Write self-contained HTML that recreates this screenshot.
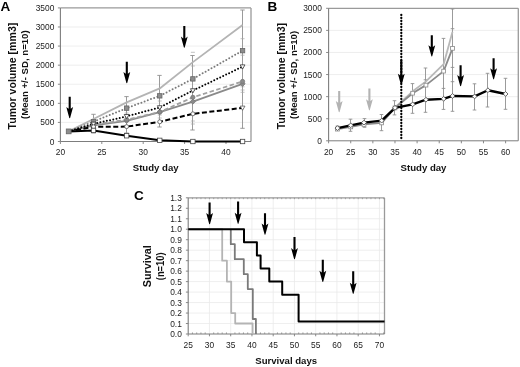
<!DOCTYPE html><html><head><meta charset="utf-8"><style>html,body{margin:0;padding:0;background:#fff;}svg{display:block;will-change:transform;}text{font-family:"Liberation Sans", sans-serif;}</style></head><body>
<svg width="520" height="367" viewBox="0 0 520 367">
<rect width="520" height="367" fill="#fff"/>
<line x1="60.4" y1="122.41" x2="251" y2="122.41" stroke="#eaeaea" stroke-width="0.8"/>
<line x1="60.4" y1="103.33" x2="251" y2="103.33" stroke="#eaeaea" stroke-width="0.8"/>
<line x1="60.4" y1="84.24" x2="251" y2="84.24" stroke="#eaeaea" stroke-width="0.8"/>
<line x1="60.4" y1="65.16" x2="251" y2="65.16" stroke="#eaeaea" stroke-width="0.8"/>
<line x1="60.4" y1="46.07" x2="251" y2="46.07" stroke="#eaeaea" stroke-width="0.8"/>
<line x1="60.4" y1="26.99" x2="251" y2="26.99" stroke="#eaeaea" stroke-width="0.8"/>
<line x1="60.4" y1="7.9" x2="251" y2="7.9" stroke="#9a9a9a" stroke-width="1.3"/>
<line x1="251" y1="7.9" x2="251" y2="141.5" stroke="#9a9a9a" stroke-width="1.3"/>
<line x1="60.4" y1="7.9" x2="60.4" y2="141.5" stroke="#7d7d7d" stroke-width="1.1"/>
<line x1="60.4" y1="141.5" x2="251" y2="141.5" stroke="#7d7d7d" stroke-width="1.1"/>
<line x1="57.9" y1="141.5" x2="60.4" y2="141.5" stroke="#7d7d7d" stroke-width="0.9"/>
<text x="54.3" y="144.5" font-size="8.4" text-anchor="end" font-weight="normal" fill="#222">0</text>
<line x1="57.9" y1="122.41" x2="60.4" y2="122.41" stroke="#7d7d7d" stroke-width="0.9"/>
<text x="54.3" y="125.41" font-size="8.4" text-anchor="end" font-weight="normal" fill="#222">500</text>
<line x1="57.9" y1="103.33" x2="60.4" y2="103.33" stroke="#7d7d7d" stroke-width="0.9"/>
<text x="54.3" y="106.33" font-size="8.4" text-anchor="end" font-weight="normal" fill="#222">1000</text>
<line x1="57.9" y1="84.24" x2="60.4" y2="84.24" stroke="#7d7d7d" stroke-width="0.9"/>
<text x="54.3" y="87.24" font-size="8.4" text-anchor="end" font-weight="normal" fill="#222">1500</text>
<line x1="57.9" y1="65.16" x2="60.4" y2="65.16" stroke="#7d7d7d" stroke-width="0.9"/>
<text x="54.3" y="68.16" font-size="8.4" text-anchor="end" font-weight="normal" fill="#222">2000</text>
<line x1="57.9" y1="46.07" x2="60.4" y2="46.07" stroke="#7d7d7d" stroke-width="0.9"/>
<text x="54.3" y="49.07" font-size="8.4" text-anchor="end" font-weight="normal" fill="#222">2500</text>
<line x1="57.9" y1="26.99" x2="60.4" y2="26.99" stroke="#7d7d7d" stroke-width="0.9"/>
<text x="54.3" y="29.99" font-size="8.4" text-anchor="end" font-weight="normal" fill="#222">3000</text>
<line x1="57.9" y1="7.9" x2="60.4" y2="7.9" stroke="#7d7d7d" stroke-width="0.9"/>
<text x="54.3" y="10.9" font-size="8.4" text-anchor="end" font-weight="normal" fill="#222">3500</text>
<line x1="60.4" y1="141.5" x2="60.4" y2="144" stroke="#7d7d7d" stroke-width="0.9"/>
<text x="60.4" y="155.2" font-size="8.4" text-anchor="middle" font-weight="normal" fill="#222">20</text>
<line x1="101.8" y1="141.5" x2="101.8" y2="144" stroke="#7d7d7d" stroke-width="0.9"/>
<text x="101.8" y="155.2" font-size="8.4" text-anchor="middle" font-weight="normal" fill="#222">25</text>
<line x1="143.2" y1="141.5" x2="143.2" y2="144" stroke="#7d7d7d" stroke-width="0.9"/>
<text x="143.2" y="155.2" font-size="8.4" text-anchor="middle" font-weight="normal" fill="#222">30</text>
<line x1="184.6" y1="141.5" x2="184.6" y2="144" stroke="#7d7d7d" stroke-width="0.9"/>
<text x="184.6" y="155.2" font-size="8.4" text-anchor="middle" font-weight="normal" fill="#222">35</text>
<line x1="226" y1="141.5" x2="226" y2="144" stroke="#7d7d7d" stroke-width="0.9"/>
<text x="226" y="155.2" font-size="8.4" text-anchor="middle" font-weight="normal" fill="#222">40</text>
<text x="155.7" y="170.8" font-size="9.6" text-anchor="middle" font-weight="bold" fill="#111">Study day</text>
<text x="16.3" y="129.5" font-size="10.4" font-weight="bold" fill="#111" textLength="106.8" lengthAdjust="spacingAndGlyphs" transform="rotate(-90 16.3 129.5)">Tumor volume [mm3]</text>
<text x="28.5" y="118.9" font-size="9.3" font-weight="bold" fill="#111" textLength="88.5" lengthAdjust="spacingAndGlyphs" transform="rotate(-90 28.5 118.9)">(Mean +/- SD, n=10)</text>
<text x="0.5" y="10.8" font-size="13.5" text-anchor="start" font-weight="bold" fill="#000">A</text>
<line x1="93.5" y1="114.3" x2="93.5" y2="133" stroke="#909090" stroke-width="0.9"/>
<line x1="91.3" y1="114.3" x2="95.7" y2="114.3" stroke="#909090" stroke-width="0.9"/>
<line x1="91.3" y1="133" x2="95.7" y2="133" stroke="#909090" stroke-width="0.9"/>
<line x1="126.5" y1="96.6" x2="126.5" y2="133" stroke="#909090" stroke-width="0.9"/>
<line x1="124.3" y1="96.6" x2="128.7" y2="96.6" stroke="#909090" stroke-width="0.9"/>
<line x1="124.3" y1="133" x2="128.7" y2="133" stroke="#909090" stroke-width="0.9"/>
<line x1="159.5" y1="75.4" x2="159.5" y2="127" stroke="#909090" stroke-width="0.9"/>
<line x1="157.3" y1="75.4" x2="161.7" y2="75.4" stroke="#909090" stroke-width="0.9"/>
<line x1="157.3" y1="127" x2="161.7" y2="127" stroke="#909090" stroke-width="0.9"/>
<line x1="192.5" y1="55.5" x2="192.5" y2="130" stroke="#909090" stroke-width="0.9"/>
<line x1="190.3" y1="55.5" x2="194.7" y2="55.5" stroke="#909090" stroke-width="0.9"/>
<line x1="190.3" y1="130" x2="194.7" y2="130" stroke="#909090" stroke-width="0.9"/>
<line x1="242.5" y1="10" x2="242.5" y2="128.3" stroke="#909090" stroke-width="0.9"/>
<line x1="240.3" y1="10" x2="244.7" y2="10" stroke="#909090" stroke-width="0.9"/>
<line x1="240.3" y1="128.3" x2="244.7" y2="128.3" stroke="#909090" stroke-width="0.9"/>
<line x1="240.56" y1="38.7" x2="244.56" y2="38.7" stroke="#a8a8a8" stroke-width="0.7"/>
<line x1="240.56" y1="55.2" x2="244.56" y2="55.2" stroke="#a8a8a8" stroke-width="0.7"/>
<line x1="240.56" y1="86.8" x2="244.56" y2="86.8" stroke="#a8a8a8" stroke-width="0.7"/>
<line x1="240.56" y1="90" x2="244.56" y2="90" stroke="#a8a8a8" stroke-width="0.7"/>
<line x1="240.56" y1="92.3" x2="244.56" y2="92.3" stroke="#a8a8a8" stroke-width="0.7"/>
<line x1="190.88" y1="52.3" x2="194.88" y2="52.3" stroke="#a8a8a8" stroke-width="0.7"/>
<line x1="190.88" y1="66" x2="194.88" y2="66" stroke="#a8a8a8" stroke-width="0.7"/>
<line x1="190.88" y1="121" x2="194.88" y2="121" stroke="#a8a8a8" stroke-width="0.7"/>
<line x1="190.88" y1="124" x2="194.88" y2="124" stroke="#a8a8a8" stroke-width="0.7"/>
<line x1="157.76" y1="101" x2="161.76" y2="101" stroke="#a8a8a8" stroke-width="0.7"/>
<line x1="157.76" y1="115" x2="161.76" y2="115" stroke="#a8a8a8" stroke-width="0.7"/>
<line x1="157.76" y1="118" x2="161.76" y2="118" stroke="#a8a8a8" stroke-width="0.7"/>
<line x1="124.64" y1="113" x2="128.64" y2="113" stroke="#a8a8a8" stroke-width="0.7"/>
<line x1="124.64" y1="118" x2="128.64" y2="118" stroke="#a8a8a8" stroke-width="0.7"/>
<polyline points="68.68,131.38 93.52,118.98 126.64,102.34 159.76,88.44 192.88,62.1 242.56,25.08" fill="none" stroke="#b4b4b4" stroke-width="1.8" stroke-linejoin="round"/>
<polyline points="68.68,131.38 93.52,125.47 126.64,120.89 159.76,112.03 192.88,101.61 242.56,83.86" fill="none" stroke="#8a8a8a" stroke-width="1.8" stroke-linejoin="round"/>
<polyline points="68.68,131.38 93.52,124.7 126.64,119.74 159.76,112.03 192.88,97.34 242.56,81.46" fill="none" stroke="#a0a0a0" stroke-width="1.8" stroke-linejoin="round" stroke-dasharray="4.5,2.5"/>
<polyline points="68.68,131.38 93.52,121.61 126.64,108.14 159.76,95.85 192.88,78.9 242.56,50.65" fill="none" stroke="#7a7a7a" stroke-width="2" stroke-linejoin="round" stroke-dasharray="0,3.4" stroke-linecap="round"/>
<polyline points="68.68,131.38 93.52,123.94 126.64,116.31 159.76,107.53 192.88,90.54 242.56,66.68" fill="none" stroke="#000" stroke-width="2" stroke-linejoin="round" stroke-dasharray="0,3.3" stroke-linecap="round"/>
<polyline points="68.68,131.38 93.52,126.8 126.64,126.61 159.76,121.8 192.88,113.83 242.56,107.91" fill="none" stroke="#000" stroke-width="2" stroke-linejoin="round" stroke-dasharray="5,2.5"/>
<polyline points="68.68,131.38 93.52,130.43 126.64,135.77 159.76,140.35 192.88,141.5 242.56,141.5" fill="none" stroke="#000" stroke-width="2" stroke-linejoin="round"/>
<polygon points="93.52,122.87 96.12,125.47 93.52,128.07 90.92,125.47" fill="#8a8a8a" stroke="#777" stroke-width="0.8"/>
<polygon points="126.64,118.29 129.24,120.89 126.64,123.49 124.04,120.89" fill="#8a8a8a" stroke="#777" stroke-width="0.8"/>
<polygon points="159.76,109.43 162.36,112.03 159.76,114.63 157.16,112.03" fill="#8a8a8a" stroke="#777" stroke-width="0.8"/>
<polygon points="192.88,99.01 195.48,101.61 192.88,104.21 190.28,101.61" fill="#8a8a8a" stroke="#777" stroke-width="0.8"/>
<polygon points="242.56,81.26 245.16,83.86 242.56,86.46 239.96,83.86" fill="#8a8a8a" stroke="#777" stroke-width="0.8"/>
<circle cx="93.52" cy="124.7" r="2.1" fill="#8a8a8a" stroke="#777" stroke-width="0.8"/>
<circle cx="126.64" cy="119.74" r="2.1" fill="#8a8a8a" stroke="#777" stroke-width="0.8"/>
<circle cx="159.76" cy="112.03" r="2.1" fill="#8a8a8a" stroke="#777" stroke-width="0.8"/>
<circle cx="192.88" cy="97.34" r="2.1" fill="#8a8a8a" stroke="#777" stroke-width="0.8"/>
<circle cx="242.56" cy="81.46" r="2.1" fill="#8a8a8a" stroke="#777" stroke-width="0.8"/>
<rect x="91.32" y="119.41" width="4.4" height="4.4" fill="#8c8c8c" stroke="#666" stroke-width="0.8"/>
<rect x="124.44" y="105.94" width="4.4" height="4.4" fill="#8c8c8c" stroke="#666" stroke-width="0.8"/>
<rect x="157.56" y="93.65" width="4.4" height="4.4" fill="#8c8c8c" stroke="#666" stroke-width="0.8"/>
<rect x="190.68" y="76.7" width="4.4" height="4.4" fill="#8c8c8c" stroke="#666" stroke-width="0.8"/>
<rect x="240.36" y="48.45" width="4.4" height="4.4" fill="#8c8c8c" stroke="#666" stroke-width="0.8"/>
<polygon points="91.12,122.14 95.92,122.14 93.52,126.34" fill="#fff" stroke="#333" stroke-width="0.8"/>
<polygon points="124.24,114.51 129.04,114.51 126.64,118.71" fill="#fff" stroke="#333" stroke-width="0.8"/>
<polygon points="157.36,105.73 162.16,105.73 159.76,109.93" fill="#fff" stroke="#333" stroke-width="0.8"/>
<polygon points="190.48,88.74 195.28,88.74 192.88,92.94" fill="#fff" stroke="#333" stroke-width="0.8"/>
<polygon points="240.16,64.88 244.96,64.88 242.56,69.08" fill="#fff" stroke="#333" stroke-width="0.8"/>
<circle cx="93.52" cy="126.8" r="2" fill="#fff" stroke="#555" stroke-width="0.8"/>
<circle cx="126.64" cy="126.61" r="2" fill="#fff" stroke="#555" stroke-width="0.8"/>
<circle cx="159.76" cy="121.8" r="2" fill="#fff" stroke="#555" stroke-width="0.8"/>
<circle cx="192.88" cy="113.83" r="2" fill="#fff" stroke="#555" stroke-width="0.8"/>
<polygon points="240.16,106.11 244.96,106.11 242.56,110.31" fill="#fff" stroke="#555" stroke-width="0.8"/>
<rect x="91.32" y="128.23" width="4.4" height="4.4" fill="#fff" stroke="#444" stroke-width="0.8"/>
<rect x="124.44" y="133.57" width="4.4" height="4.4" fill="#fff" stroke="#444" stroke-width="0.8"/>
<rect x="157.56" y="138.15" width="4.4" height="4.4" fill="#fff" stroke="#444" stroke-width="0.8"/>
<rect x="190.68" y="139.3" width="4.4" height="4.4" fill="#fff" stroke="#444" stroke-width="0.8"/>
<rect x="240.36" y="139.3" width="4.4" height="4.4" fill="#fff" stroke="#444" stroke-width="0.8"/>
<rect x="66.28" y="128.98" width="4.8" height="4.8" fill="#8c8c8c" stroke="#666" stroke-width="0.8"/>
<polygon points="68.65,96.7 70.75,96.7 70.75,108.8 73.1,107 70.1,117.9 69.7,118.2 69.3,117.9 66.3,107 68.65,108.8" fill="#000"/>
<polygon points="125.75,61.8 127.85,61.8 127.85,73.8 130.2,72 127.2,82.9 126.8,83.2 126.4,82.9 123.4,72 125.75,73.8" fill="#000"/>
<polygon points="183.25,26.1 185.35,26.1 185.35,38.4 187.7,36.6 184.7,47.5 184.3,47.8 183.9,47.5 180.9,36.6 183.25,38.4" fill="#000"/>
<line x1="328.6" y1="118.72" x2="518.3" y2="118.72" stroke="#eaeaea" stroke-width="0.8"/>
<line x1="328.6" y1="96.63" x2="518.3" y2="96.63" stroke="#eaeaea" stroke-width="0.8"/>
<line x1="328.6" y1="74.55" x2="518.3" y2="74.55" stroke="#eaeaea" stroke-width="0.8"/>
<line x1="328.6" y1="52.47" x2="518.3" y2="52.47" stroke="#eaeaea" stroke-width="0.8"/>
<line x1="328.6" y1="30.38" x2="518.3" y2="30.38" stroke="#eaeaea" stroke-width="0.8"/>
<line x1="328.6" y1="8.3" x2="518.3" y2="8.3" stroke="#9a9a9a" stroke-width="1.3"/>
<line x1="518.3" y1="8.3" x2="518.3" y2="140.8" stroke="#9a9a9a" stroke-width="1.3"/>
<line x1="328.6" y1="8.3" x2="328.6" y2="140.8" stroke="#7d7d7d" stroke-width="1.1"/>
<line x1="328.6" y1="140.8" x2="518.3" y2="140.8" stroke="#7d7d7d" stroke-width="1"/>
<line x1="326.1" y1="140.8" x2="328.6" y2="140.8" stroke="#7d7d7d" stroke-width="0.9"/>
<text x="321.8" y="143.8" font-size="8.4" text-anchor="end" font-weight="normal" fill="#222">0</text>
<line x1="326.1" y1="118.72" x2="328.6" y2="118.72" stroke="#7d7d7d" stroke-width="0.9"/>
<text x="321.8" y="121.72" font-size="8.4" text-anchor="end" font-weight="normal" fill="#222">500</text>
<line x1="326.1" y1="96.63" x2="328.6" y2="96.63" stroke="#7d7d7d" stroke-width="0.9"/>
<text x="321.8" y="99.63" font-size="8.4" text-anchor="end" font-weight="normal" fill="#222">1000</text>
<line x1="326.1" y1="74.55" x2="328.6" y2="74.55" stroke="#7d7d7d" stroke-width="0.9"/>
<text x="321.8" y="77.55" font-size="8.4" text-anchor="end" font-weight="normal" fill="#222">1500</text>
<line x1="326.1" y1="52.47" x2="328.6" y2="52.47" stroke="#7d7d7d" stroke-width="0.9"/>
<text x="321.8" y="55.47" font-size="8.4" text-anchor="end" font-weight="normal" fill="#222">2000</text>
<line x1="326.1" y1="30.38" x2="328.6" y2="30.38" stroke="#7d7d7d" stroke-width="0.9"/>
<text x="321.8" y="33.38" font-size="8.4" text-anchor="end" font-weight="normal" fill="#222">2500</text>
<line x1="326.1" y1="8.3" x2="328.6" y2="8.3" stroke="#7d7d7d" stroke-width="0.9"/>
<text x="321.8" y="11.3" font-size="8.4" text-anchor="end" font-weight="normal" fill="#222">3000</text>
<line x1="328.6" y1="140.8" x2="328.6" y2="143.3" stroke="#7d7d7d" stroke-width="0.9"/>
<text x="328.6" y="155.2" font-size="8.4" text-anchor="middle" font-weight="normal" fill="#222">20</text>
<line x1="350.73" y1="140.8" x2="350.73" y2="143.3" stroke="#7d7d7d" stroke-width="0.9"/>
<text x="350.73" y="155.2" font-size="8.4" text-anchor="middle" font-weight="normal" fill="#222">25</text>
<line x1="372.85" y1="140.8" x2="372.85" y2="143.3" stroke="#7d7d7d" stroke-width="0.9"/>
<text x="372.85" y="155.2" font-size="8.4" text-anchor="middle" font-weight="normal" fill="#222">30</text>
<line x1="394.98" y1="140.8" x2="394.98" y2="143.3" stroke="#7d7d7d" stroke-width="0.9"/>
<text x="394.98" y="155.2" font-size="8.4" text-anchor="middle" font-weight="normal" fill="#222">35</text>
<line x1="417.1" y1="140.8" x2="417.1" y2="143.3" stroke="#7d7d7d" stroke-width="0.9"/>
<text x="417.1" y="155.2" font-size="8.4" text-anchor="middle" font-weight="normal" fill="#222">40</text>
<line x1="439.23" y1="140.8" x2="439.23" y2="143.3" stroke="#7d7d7d" stroke-width="0.9"/>
<text x="439.23" y="155.2" font-size="8.4" text-anchor="middle" font-weight="normal" fill="#222">45</text>
<line x1="461.35" y1="140.8" x2="461.35" y2="143.3" stroke="#7d7d7d" stroke-width="0.9"/>
<text x="461.35" y="155.2" font-size="8.4" text-anchor="middle" font-weight="normal" fill="#222">50</text>
<line x1="483.48" y1="140.8" x2="483.48" y2="143.3" stroke="#7d7d7d" stroke-width="0.9"/>
<text x="483.48" y="155.2" font-size="8.4" text-anchor="middle" font-weight="normal" fill="#222">55</text>
<line x1="505.6" y1="140.8" x2="505.6" y2="143.3" stroke="#7d7d7d" stroke-width="0.9"/>
<text x="505.6" y="155.2" font-size="8.4" text-anchor="middle" font-weight="normal" fill="#222">60</text>
<text x="423.5" y="170.8" font-size="9.6" text-anchor="middle" font-weight="bold" fill="#111">Study day</text>
<text x="284.6" y="129.3" font-size="10.4" font-weight="bold" fill="#111" textLength="106.4" lengthAdjust="spacingAndGlyphs" transform="rotate(-90 284.6 129.3)">Tumor volume [mm3]</text>
<text x="297" y="118.9" font-size="9.3" font-weight="bold" fill="#111" textLength="88" lengthAdjust="spacingAndGlyphs" transform="rotate(-90 297 118.9)">(Mean +/- SD, n=10)</text>
<text x="267.5" y="10.8" font-size="13.5" text-anchor="start" font-weight="bold" fill="#000">B</text>
<line x1="337.5" y1="126" x2="337.5" y2="130" stroke="#909090" stroke-width="0.9"/>
<line x1="335.7" y1="126" x2="339.3" y2="126" stroke="#909090" stroke-width="0.9"/>
<line x1="335.7" y1="130" x2="339.3" y2="130" stroke="#909090" stroke-width="0.9"/>
<line x1="350.5" y1="119.2" x2="350.5" y2="131.3" stroke="#909090" stroke-width="0.9"/>
<line x1="348.7" y1="119.2" x2="352.3" y2="119.2" stroke="#909090" stroke-width="0.9"/>
<line x1="348.7" y1="131.3" x2="352.3" y2="131.3" stroke="#909090" stroke-width="0.9"/>
<line x1="364.5" y1="118.6" x2="364.5" y2="127.3" stroke="#909090" stroke-width="0.9"/>
<line x1="362.7" y1="118.6" x2="366.3" y2="118.6" stroke="#909090" stroke-width="0.9"/>
<line x1="362.7" y1="127.3" x2="366.3" y2="127.3" stroke="#909090" stroke-width="0.9"/>
<line x1="381.5" y1="114.5" x2="381.5" y2="130.7" stroke="#909090" stroke-width="0.9"/>
<line x1="379.7" y1="114.5" x2="383.3" y2="114.5" stroke="#909090" stroke-width="0.9"/>
<line x1="379.7" y1="130.7" x2="383.3" y2="130.7" stroke="#909090" stroke-width="0.9"/>
<line x1="394.5" y1="100.7" x2="394.5" y2="114.9" stroke="#909090" stroke-width="0.9"/>
<line x1="392.7" y1="100.7" x2="396.3" y2="100.7" stroke="#909090" stroke-width="0.9"/>
<line x1="392.7" y1="114.9" x2="396.3" y2="114.9" stroke="#909090" stroke-width="0.9"/>
<line x1="412.5" y1="83.6" x2="412.5" y2="113.3" stroke="#909090" stroke-width="0.9"/>
<line x1="410.7" y1="83.6" x2="414.3" y2="83.6" stroke="#909090" stroke-width="0.9"/>
<line x1="410.7" y1="113.3" x2="414.3" y2="113.3" stroke="#909090" stroke-width="0.9"/>
<line x1="425.5" y1="68" x2="425.5" y2="112.3" stroke="#909090" stroke-width="0.9"/>
<line x1="423.7" y1="68" x2="427.3" y2="68" stroke="#909090" stroke-width="0.9"/>
<line x1="423.7" y1="112.3" x2="427.3" y2="112.3" stroke="#909090" stroke-width="0.9"/>
<line x1="443.5" y1="38.4" x2="443.5" y2="109.4" stroke="#909090" stroke-width="0.9"/>
<line x1="441.7" y1="38.4" x2="445.3" y2="38.4" stroke="#909090" stroke-width="0.9"/>
<line x1="441.7" y1="109.4" x2="445.3" y2="109.4" stroke="#909090" stroke-width="0.9"/>
<line x1="452.5" y1="9" x2="452.5" y2="111.3" stroke="#909090" stroke-width="0.9"/>
<line x1="450.7" y1="9" x2="454.3" y2="9" stroke="#909090" stroke-width="0.9"/>
<line x1="450.7" y1="111.3" x2="454.3" y2="111.3" stroke="#909090" stroke-width="0.9"/>
<line x1="474.5" y1="83.8" x2="474.5" y2="110" stroke="#909090" stroke-width="0.9"/>
<line x1="472.7" y1="83.8" x2="476.3" y2="83.8" stroke="#909090" stroke-width="0.9"/>
<line x1="472.7" y1="110" x2="476.3" y2="110" stroke="#909090" stroke-width="0.9"/>
<line x1="487.5" y1="73.3" x2="487.5" y2="107" stroke="#909090" stroke-width="0.9"/>
<line x1="485.7" y1="73.3" x2="489.3" y2="73.3" stroke="#909090" stroke-width="0.9"/>
<line x1="485.7" y1="107" x2="489.3" y2="107" stroke="#909090" stroke-width="0.9"/>
<line x1="505.5" y1="78.3" x2="505.5" y2="109.3" stroke="#909090" stroke-width="0.9"/>
<line x1="503.7" y1="78.3" x2="507.3" y2="78.3" stroke="#909090" stroke-width="0.9"/>
<line x1="503.7" y1="109.3" x2="507.3" y2="109.3" stroke="#909090" stroke-width="0.9"/>
<line x1="423.7" y1="79.8" x2="427.3" y2="79.8" stroke="#909090" stroke-width="0.9"/>
<line x1="441.7" y1="88.4" x2="445.3" y2="88.4" stroke="#909090" stroke-width="0.9"/>
<line x1="450.7" y1="28.7" x2="454.3" y2="28.7" stroke="#909090" stroke-width="0.9"/>
<line x1="450.7" y1="67.4" x2="454.3" y2="67.4" stroke="#909090" stroke-width="0.9"/>
<line x1="450.7" y1="81.7" x2="454.3" y2="81.7" stroke="#909090" stroke-width="0.9"/>
<polyline points="394.98,107.45 412.68,91.33 425.95,81.4 443.65,64.17 452.5,31.71" fill="none" stroke="#b8b8b8" stroke-width="1.8" stroke-linejoin="round"/>
<polyline points="337.45,129.1 350.73,126.89 364,124.46 381.7,122.91 394.98,107.9 412.68,93.19 425.95,85.11 443.65,71.11 452.5,48.32" fill="none" stroke="#8a8a8a" stroke-width="1.8" stroke-linejoin="round"/>
<polyline points="337.45,128.08 350.73,125.3 364,122.6 381.7,120.62 394.98,107.81 412.68,104.36 425.95,99.73 443.65,98.84 452.5,95.97 474.62,96.41 487.9,90.23 505.6,93.98" fill="none" stroke="#000" stroke-width="2.4" stroke-linejoin="round"/>
<rect x="335.55" y="127.2" width="3.8" height="3.8" fill="#fff" stroke="#888" stroke-width="0.8"/>
<rect x="348.83" y="124.99" width="3.8" height="3.8" fill="#fff" stroke="#888" stroke-width="0.8"/>
<rect x="362.1" y="122.56" width="3.8" height="3.8" fill="#fff" stroke="#888" stroke-width="0.8"/>
<rect x="379.8" y="121.01" width="3.8" height="3.8" fill="#fff" stroke="#888" stroke-width="0.8"/>
<rect x="393.08" y="106" width="3.8" height="3.8" fill="#fff" stroke="#888" stroke-width="0.8"/>
<rect x="410.78" y="91.29" width="3.8" height="3.8" fill="#fff" stroke="#888" stroke-width="0.8"/>
<rect x="424.05" y="83.21" width="3.8" height="3.8" fill="#fff" stroke="#888" stroke-width="0.8"/>
<rect x="441.75" y="69.21" width="3.8" height="3.8" fill="#fff" stroke="#888" stroke-width="0.8"/>
<rect x="450.6" y="46.42" width="3.8" height="3.8" fill="#fff" stroke="#888" stroke-width="0.8"/>
<polygon points="337.45,125.68 339.85,128.08 337.45,130.48 335.05,128.08" fill="#fff" stroke="#444" stroke-width="0.8"/>
<polygon points="350.73,122.9 353.12,125.3 350.73,127.7 348.33,125.3" fill="#fff" stroke="#444" stroke-width="0.8"/>
<polygon points="364,120.2 366.4,122.6 364,125 361.6,122.6" fill="#fff" stroke="#444" stroke-width="0.8"/>
<polygon points="381.7,118.22 384.1,120.62 381.7,123.02 379.3,120.62" fill="#fff" stroke="#444" stroke-width="0.8"/>
<polygon points="394.98,105.41 397.38,107.81 394.98,110.21 392.58,107.81" fill="#fff" stroke="#444" stroke-width="0.8"/>
<polygon points="412.68,101.96 415.07,104.36 412.68,106.76 410.28,104.36" fill="#fff" stroke="#444" stroke-width="0.8"/>
<polygon points="425.95,97.33 428.35,99.73 425.95,102.13 423.55,99.73" fill="#fff" stroke="#444" stroke-width="0.8"/>
<polygon points="443.65,96.44 446.05,98.84 443.65,101.24 441.25,98.84" fill="#fff" stroke="#444" stroke-width="0.8"/>
<polygon points="452.5,93.57 454.9,95.97 452.5,98.37 450.1,95.97" fill="#fff" stroke="#444" stroke-width="0.8"/>
<polygon points="474.62,94.01 477.02,96.41 474.62,98.81 472.23,96.41" fill="#fff" stroke="#444" stroke-width="0.8"/>
<polygon points="487.9,87.83 490.3,90.23 487.9,92.63 485.5,90.23" fill="#fff" stroke="#444" stroke-width="0.8"/>
<polygon points="505.6,91.58 508,93.98 505.6,96.38 503.2,93.98" fill="#fff" stroke="#444" stroke-width="0.8"/>
<line x1="401.3" y1="15" x2="401.3" y2="141" stroke="#000" stroke-width="2.3" stroke-dasharray="0,3" stroke-linecap="round"/>
<polygon points="338.15,91 340.25,91 340.25,102.8 342.6,101 339.6,111.9 339.2,112.2 338.8,111.9 335.8,101 338.15,102.8" fill="#b3b3b3"/>
<polygon points="368.35,88.4 370.45,88.4 370.45,101 372.8,99.2 369.8,110.1 369.4,110.4 369,110.1 366,99.2 368.35,101" fill="#b3b3b3"/>
<polygon points="400.25,60 402.35,60 402.35,75.6 404.7,73.8 401.7,84.7 401.3,85 400.9,84.7 397.9,73.8 400.25,75.6" fill="#000"/>
<polygon points="430.75,35.3 432.85,35.3 432.85,47.1 435.2,45.3 432.2,56.2 431.8,56.5 431.4,56.2 428.4,45.3 430.75,47.1" fill="#000"/>
<polygon points="459.55,65.3 461.65,65.3 461.65,76.8 464,75 461,85.9 460.6,86.2 460.2,85.9 457.2,75 459.55,76.8" fill="#000"/>
<polygon points="492.55,58.3 494.65,58.3 494.65,70 497,68.2 494,79.1 493.6,79.4 493.2,79.1 490.2,68.2 492.55,70" fill="#000"/>
<line x1="188.2" y1="323.52" x2="384.5" y2="323.52" stroke="#eaeaea" stroke-width="0.8"/>
<line x1="188.2" y1="313.05" x2="384.5" y2="313.05" stroke="#eaeaea" stroke-width="0.8"/>
<line x1="188.2" y1="302.57" x2="384.5" y2="302.57" stroke="#eaeaea" stroke-width="0.8"/>
<line x1="188.2" y1="292.09" x2="384.5" y2="292.09" stroke="#eaeaea" stroke-width="0.8"/>
<line x1="188.2" y1="281.62" x2="384.5" y2="281.62" stroke="#eaeaea" stroke-width="0.8"/>
<line x1="188.2" y1="271.14" x2="384.5" y2="271.14" stroke="#eaeaea" stroke-width="0.8"/>
<line x1="188.2" y1="260.66" x2="384.5" y2="260.66" stroke="#eaeaea" stroke-width="0.8"/>
<line x1="188.2" y1="250.18" x2="384.5" y2="250.18" stroke="#eaeaea" stroke-width="0.8"/>
<line x1="188.2" y1="239.71" x2="384.5" y2="239.71" stroke="#eaeaea" stroke-width="0.8"/>
<line x1="188.2" y1="229.23" x2="384.5" y2="229.23" stroke="#eaeaea" stroke-width="0.8"/>
<line x1="188.2" y1="218.75" x2="384.5" y2="218.75" stroke="#eaeaea" stroke-width="0.8"/>
<line x1="188.2" y1="208.28" x2="384.5" y2="208.28" stroke="#eaeaea" stroke-width="0.8"/>
<line x1="209.45" y1="197.8" x2="209.45" y2="334" stroke="#eaeaea" stroke-width="0.8"/>
<line x1="230.7" y1="197.8" x2="230.7" y2="334" stroke="#eaeaea" stroke-width="0.8"/>
<line x1="251.95" y1="197.8" x2="251.95" y2="334" stroke="#eaeaea" stroke-width="0.8"/>
<line x1="273.2" y1="197.8" x2="273.2" y2="334" stroke="#eaeaea" stroke-width="0.8"/>
<line x1="294.45" y1="197.8" x2="294.45" y2="334" stroke="#eaeaea" stroke-width="0.8"/>
<line x1="315.7" y1="197.8" x2="315.7" y2="334" stroke="#eaeaea" stroke-width="0.8"/>
<line x1="336.95" y1="197.8" x2="336.95" y2="334" stroke="#eaeaea" stroke-width="0.8"/>
<line x1="358.2" y1="197.8" x2="358.2" y2="334" stroke="#eaeaea" stroke-width="0.8"/>
<line x1="379.45" y1="197.8" x2="379.45" y2="334" stroke="#eaeaea" stroke-width="0.8"/>
<line x1="188.2" y1="197.8" x2="384.5" y2="197.8" stroke="#9a9a9a" stroke-width="1.3"/>
<line x1="384.5" y1="197.8" x2="384.5" y2="334" stroke="#9a9a9a" stroke-width="1.3"/>
<line x1="188.2" y1="197.8" x2="188.2" y2="334" stroke="#7d7d7d" stroke-width="1.1"/>
<line x1="188.2" y1="334" x2="384.5" y2="334" stroke="#7d7d7d" stroke-width="1.1"/>
<line x1="185.9" y1="334" x2="188.2" y2="334" stroke="#7d7d7d" stroke-width="0.9"/>
<text x="181.8" y="337" font-size="8.4" text-anchor="end" font-weight="normal" fill="#222">0.0</text>
<line x1="185.9" y1="323.52" x2="188.2" y2="323.52" stroke="#7d7d7d" stroke-width="0.9"/>
<text x="181.8" y="326.52" font-size="8.4" text-anchor="end" font-weight="normal" fill="#222">0.1</text>
<line x1="185.9" y1="313.05" x2="188.2" y2="313.05" stroke="#7d7d7d" stroke-width="0.9"/>
<text x="181.8" y="316.05" font-size="8.4" text-anchor="end" font-weight="normal" fill="#222">0.2</text>
<line x1="185.9" y1="302.57" x2="188.2" y2="302.57" stroke="#7d7d7d" stroke-width="0.9"/>
<text x="181.8" y="305.57" font-size="8.4" text-anchor="end" font-weight="normal" fill="#222">0.3</text>
<line x1="185.9" y1="292.09" x2="188.2" y2="292.09" stroke="#7d7d7d" stroke-width="0.9"/>
<text x="181.8" y="295.09" font-size="8.4" text-anchor="end" font-weight="normal" fill="#222">0.4</text>
<line x1="185.9" y1="281.62" x2="188.2" y2="281.62" stroke="#7d7d7d" stroke-width="0.9"/>
<text x="181.8" y="284.62" font-size="8.4" text-anchor="end" font-weight="normal" fill="#222">0.5</text>
<line x1="185.9" y1="271.14" x2="188.2" y2="271.14" stroke="#7d7d7d" stroke-width="0.9"/>
<text x="181.8" y="274.14" font-size="8.4" text-anchor="end" font-weight="normal" fill="#222">0.6</text>
<line x1="185.9" y1="260.66" x2="188.2" y2="260.66" stroke="#7d7d7d" stroke-width="0.9"/>
<text x="181.8" y="263.66" font-size="8.4" text-anchor="end" font-weight="normal" fill="#222">0.7</text>
<line x1="185.9" y1="250.18" x2="188.2" y2="250.18" stroke="#7d7d7d" stroke-width="0.9"/>
<text x="181.8" y="253.18" font-size="8.4" text-anchor="end" font-weight="normal" fill="#222">0.8</text>
<line x1="185.9" y1="239.71" x2="188.2" y2="239.71" stroke="#7d7d7d" stroke-width="0.9"/>
<text x="181.8" y="242.71" font-size="8.4" text-anchor="end" font-weight="normal" fill="#222">0.9</text>
<line x1="185.9" y1="229.23" x2="188.2" y2="229.23" stroke="#7d7d7d" stroke-width="0.9"/>
<text x="181.8" y="232.23" font-size="8.4" text-anchor="end" font-weight="normal" fill="#222">1.0</text>
<line x1="185.9" y1="218.75" x2="188.2" y2="218.75" stroke="#7d7d7d" stroke-width="0.9"/>
<text x="181.8" y="221.75" font-size="8.4" text-anchor="end" font-weight="normal" fill="#222">1.1</text>
<line x1="185.9" y1="208.28" x2="188.2" y2="208.28" stroke="#7d7d7d" stroke-width="0.9"/>
<text x="181.8" y="211.28" font-size="8.4" text-anchor="end" font-weight="normal" fill="#222">1.2</text>
<line x1="185.9" y1="197.8" x2="188.2" y2="197.8" stroke="#7d7d7d" stroke-width="0.9"/>
<text x="181.8" y="200.8" font-size="8.4" text-anchor="end" font-weight="normal" fill="#222">1.3</text>
<line x1="188.2" y1="334" x2="188.2" y2="336.3" stroke="#7d7d7d" stroke-width="0.9"/>
<text x="188.2" y="348.3" font-size="8.4" text-anchor="middle" font-weight="normal" fill="#222">25</text>
<line x1="192.45" y1="332.4" x2="192.45" y2="334" stroke="#7d7d7d" stroke-width="0.7"/>
<line x1="196.7" y1="332.4" x2="196.7" y2="334" stroke="#7d7d7d" stroke-width="0.7"/>
<line x1="200.95" y1="332.4" x2="200.95" y2="334" stroke="#7d7d7d" stroke-width="0.7"/>
<line x1="205.2" y1="332.4" x2="205.2" y2="334" stroke="#7d7d7d" stroke-width="0.7"/>
<line x1="209.45" y1="334" x2="209.45" y2="336.3" stroke="#7d7d7d" stroke-width="0.9"/>
<text x="209.45" y="348.3" font-size="8.4" text-anchor="middle" font-weight="normal" fill="#222">30</text>
<line x1="213.7" y1="332.4" x2="213.7" y2="334" stroke="#7d7d7d" stroke-width="0.7"/>
<line x1="217.95" y1="332.4" x2="217.95" y2="334" stroke="#7d7d7d" stroke-width="0.7"/>
<line x1="222.2" y1="332.4" x2="222.2" y2="334" stroke="#7d7d7d" stroke-width="0.7"/>
<line x1="226.45" y1="332.4" x2="226.45" y2="334" stroke="#7d7d7d" stroke-width="0.7"/>
<line x1="230.7" y1="334" x2="230.7" y2="336.3" stroke="#7d7d7d" stroke-width="0.9"/>
<text x="230.7" y="348.3" font-size="8.4" text-anchor="middle" font-weight="normal" fill="#222">35</text>
<line x1="234.95" y1="332.4" x2="234.95" y2="334" stroke="#7d7d7d" stroke-width="0.7"/>
<line x1="239.2" y1="332.4" x2="239.2" y2="334" stroke="#7d7d7d" stroke-width="0.7"/>
<line x1="243.45" y1="332.4" x2="243.45" y2="334" stroke="#7d7d7d" stroke-width="0.7"/>
<line x1="247.7" y1="332.4" x2="247.7" y2="334" stroke="#7d7d7d" stroke-width="0.7"/>
<line x1="251.95" y1="334" x2="251.95" y2="336.3" stroke="#7d7d7d" stroke-width="0.9"/>
<text x="251.95" y="348.3" font-size="8.4" text-anchor="middle" font-weight="normal" fill="#222">40</text>
<line x1="256.2" y1="332.4" x2="256.2" y2="334" stroke="#7d7d7d" stroke-width="0.7"/>
<line x1="260.45" y1="332.4" x2="260.45" y2="334" stroke="#7d7d7d" stroke-width="0.7"/>
<line x1="264.7" y1="332.4" x2="264.7" y2="334" stroke="#7d7d7d" stroke-width="0.7"/>
<line x1="268.95" y1="332.4" x2="268.95" y2="334" stroke="#7d7d7d" stroke-width="0.7"/>
<line x1="273.2" y1="334" x2="273.2" y2="336.3" stroke="#7d7d7d" stroke-width="0.9"/>
<text x="273.2" y="348.3" font-size="8.4" text-anchor="middle" font-weight="normal" fill="#222">45</text>
<line x1="277.45" y1="332.4" x2="277.45" y2="334" stroke="#7d7d7d" stroke-width="0.7"/>
<line x1="281.7" y1="332.4" x2="281.7" y2="334" stroke="#7d7d7d" stroke-width="0.7"/>
<line x1="285.95" y1="332.4" x2="285.95" y2="334" stroke="#7d7d7d" stroke-width="0.7"/>
<line x1="290.2" y1="332.4" x2="290.2" y2="334" stroke="#7d7d7d" stroke-width="0.7"/>
<line x1="294.45" y1="334" x2="294.45" y2="336.3" stroke="#7d7d7d" stroke-width="0.9"/>
<text x="294.45" y="348.3" font-size="8.4" text-anchor="middle" font-weight="normal" fill="#222">50</text>
<line x1="298.7" y1="332.4" x2="298.7" y2="334" stroke="#7d7d7d" stroke-width="0.7"/>
<line x1="302.95" y1="332.4" x2="302.95" y2="334" stroke="#7d7d7d" stroke-width="0.7"/>
<line x1="307.2" y1="332.4" x2="307.2" y2="334" stroke="#7d7d7d" stroke-width="0.7"/>
<line x1="311.45" y1="332.4" x2="311.45" y2="334" stroke="#7d7d7d" stroke-width="0.7"/>
<line x1="315.7" y1="334" x2="315.7" y2="336.3" stroke="#7d7d7d" stroke-width="0.9"/>
<text x="315.7" y="348.3" font-size="8.4" text-anchor="middle" font-weight="normal" fill="#222">55</text>
<line x1="319.95" y1="332.4" x2="319.95" y2="334" stroke="#7d7d7d" stroke-width="0.7"/>
<line x1="324.2" y1="332.4" x2="324.2" y2="334" stroke="#7d7d7d" stroke-width="0.7"/>
<line x1="328.45" y1="332.4" x2="328.45" y2="334" stroke="#7d7d7d" stroke-width="0.7"/>
<line x1="332.7" y1="332.4" x2="332.7" y2="334" stroke="#7d7d7d" stroke-width="0.7"/>
<line x1="336.95" y1="334" x2="336.95" y2="336.3" stroke="#7d7d7d" stroke-width="0.9"/>
<text x="336.95" y="348.3" font-size="8.4" text-anchor="middle" font-weight="normal" fill="#222">60</text>
<line x1="341.2" y1="332.4" x2="341.2" y2="334" stroke="#7d7d7d" stroke-width="0.7"/>
<line x1="345.45" y1="332.4" x2="345.45" y2="334" stroke="#7d7d7d" stroke-width="0.7"/>
<line x1="349.7" y1="332.4" x2="349.7" y2="334" stroke="#7d7d7d" stroke-width="0.7"/>
<line x1="353.95" y1="332.4" x2="353.95" y2="334" stroke="#7d7d7d" stroke-width="0.7"/>
<line x1="358.2" y1="334" x2="358.2" y2="336.3" stroke="#7d7d7d" stroke-width="0.9"/>
<text x="358.2" y="348.3" font-size="8.4" text-anchor="middle" font-weight="normal" fill="#222">65</text>
<line x1="362.45" y1="332.4" x2="362.45" y2="334" stroke="#7d7d7d" stroke-width="0.7"/>
<line x1="366.7" y1="332.4" x2="366.7" y2="334" stroke="#7d7d7d" stroke-width="0.7"/>
<line x1="370.95" y1="332.4" x2="370.95" y2="334" stroke="#7d7d7d" stroke-width="0.7"/>
<line x1="375.2" y1="332.4" x2="375.2" y2="334" stroke="#7d7d7d" stroke-width="0.7"/>
<line x1="379.45" y1="334" x2="379.45" y2="336.3" stroke="#7d7d7d" stroke-width="0.9"/>
<text x="379.45" y="348.3" font-size="8.4" text-anchor="middle" font-weight="normal" fill="#222">70</text>
<line x1="383.7" y1="332.4" x2="383.7" y2="334" stroke="#7d7d7d" stroke-width="0.7"/>
<line x1="192.45" y1="197.8" x2="192.45" y2="199.2" stroke="#7d7d7d" stroke-width="0.6"/>
<line x1="196.7" y1="197.8" x2="196.7" y2="199.2" stroke="#7d7d7d" stroke-width="0.6"/>
<line x1="200.95" y1="197.8" x2="200.95" y2="199.2" stroke="#7d7d7d" stroke-width="0.6"/>
<line x1="205.2" y1="197.8" x2="205.2" y2="199.2" stroke="#7d7d7d" stroke-width="0.6"/>
<line x1="209.45" y1="197.8" x2="209.45" y2="199.2" stroke="#7d7d7d" stroke-width="0.6"/>
<line x1="213.7" y1="197.8" x2="213.7" y2="199.2" stroke="#7d7d7d" stroke-width="0.6"/>
<line x1="217.95" y1="197.8" x2="217.95" y2="199.2" stroke="#7d7d7d" stroke-width="0.6"/>
<line x1="222.2" y1="197.8" x2="222.2" y2="199.2" stroke="#7d7d7d" stroke-width="0.6"/>
<line x1="226.45" y1="197.8" x2="226.45" y2="199.2" stroke="#7d7d7d" stroke-width="0.6"/>
<line x1="230.7" y1="197.8" x2="230.7" y2="199.2" stroke="#7d7d7d" stroke-width="0.6"/>
<line x1="234.95" y1="197.8" x2="234.95" y2="199.2" stroke="#7d7d7d" stroke-width="0.6"/>
<line x1="239.2" y1="197.8" x2="239.2" y2="199.2" stroke="#7d7d7d" stroke-width="0.6"/>
<line x1="243.45" y1="197.8" x2="243.45" y2="199.2" stroke="#7d7d7d" stroke-width="0.6"/>
<line x1="247.7" y1="197.8" x2="247.7" y2="199.2" stroke="#7d7d7d" stroke-width="0.6"/>
<line x1="251.95" y1="197.8" x2="251.95" y2="199.2" stroke="#7d7d7d" stroke-width="0.6"/>
<line x1="256.2" y1="197.8" x2="256.2" y2="199.2" stroke="#7d7d7d" stroke-width="0.6"/>
<line x1="260.45" y1="197.8" x2="260.45" y2="199.2" stroke="#7d7d7d" stroke-width="0.6"/>
<line x1="264.7" y1="197.8" x2="264.7" y2="199.2" stroke="#7d7d7d" stroke-width="0.6"/>
<line x1="268.95" y1="197.8" x2="268.95" y2="199.2" stroke="#7d7d7d" stroke-width="0.6"/>
<line x1="273.2" y1="197.8" x2="273.2" y2="199.2" stroke="#7d7d7d" stroke-width="0.6"/>
<line x1="277.45" y1="197.8" x2="277.45" y2="199.2" stroke="#7d7d7d" stroke-width="0.6"/>
<line x1="281.7" y1="197.8" x2="281.7" y2="199.2" stroke="#7d7d7d" stroke-width="0.6"/>
<line x1="285.95" y1="197.8" x2="285.95" y2="199.2" stroke="#7d7d7d" stroke-width="0.6"/>
<line x1="290.2" y1="197.8" x2="290.2" y2="199.2" stroke="#7d7d7d" stroke-width="0.6"/>
<line x1="294.45" y1="197.8" x2="294.45" y2="199.2" stroke="#7d7d7d" stroke-width="0.6"/>
<line x1="298.7" y1="197.8" x2="298.7" y2="199.2" stroke="#7d7d7d" stroke-width="0.6"/>
<line x1="302.95" y1="197.8" x2="302.95" y2="199.2" stroke="#7d7d7d" stroke-width="0.6"/>
<line x1="307.2" y1="197.8" x2="307.2" y2="199.2" stroke="#7d7d7d" stroke-width="0.6"/>
<line x1="311.45" y1="197.8" x2="311.45" y2="199.2" stroke="#7d7d7d" stroke-width="0.6"/>
<line x1="315.7" y1="197.8" x2="315.7" y2="199.2" stroke="#7d7d7d" stroke-width="0.6"/>
<line x1="319.95" y1="197.8" x2="319.95" y2="199.2" stroke="#7d7d7d" stroke-width="0.6"/>
<line x1="324.2" y1="197.8" x2="324.2" y2="199.2" stroke="#7d7d7d" stroke-width="0.6"/>
<line x1="328.45" y1="197.8" x2="328.45" y2="199.2" stroke="#7d7d7d" stroke-width="0.6"/>
<line x1="332.7" y1="197.8" x2="332.7" y2="199.2" stroke="#7d7d7d" stroke-width="0.6"/>
<line x1="336.95" y1="197.8" x2="336.95" y2="199.2" stroke="#7d7d7d" stroke-width="0.6"/>
<line x1="341.2" y1="197.8" x2="341.2" y2="199.2" stroke="#7d7d7d" stroke-width="0.6"/>
<line x1="345.45" y1="197.8" x2="345.45" y2="199.2" stroke="#7d7d7d" stroke-width="0.6"/>
<line x1="349.7" y1="197.8" x2="349.7" y2="199.2" stroke="#7d7d7d" stroke-width="0.6"/>
<line x1="353.95" y1="197.8" x2="353.95" y2="199.2" stroke="#7d7d7d" stroke-width="0.6"/>
<line x1="358.2" y1="197.8" x2="358.2" y2="199.2" stroke="#7d7d7d" stroke-width="0.6"/>
<line x1="362.45" y1="197.8" x2="362.45" y2="199.2" stroke="#7d7d7d" stroke-width="0.6"/>
<line x1="366.7" y1="197.8" x2="366.7" y2="199.2" stroke="#7d7d7d" stroke-width="0.6"/>
<line x1="370.95" y1="197.8" x2="370.95" y2="199.2" stroke="#7d7d7d" stroke-width="0.6"/>
<line x1="375.2" y1="197.8" x2="375.2" y2="199.2" stroke="#7d7d7d" stroke-width="0.6"/>
<line x1="379.45" y1="197.8" x2="379.45" y2="199.2" stroke="#7d7d7d" stroke-width="0.6"/>
<line x1="383.7" y1="197.8" x2="383.7" y2="199.2" stroke="#7d7d7d" stroke-width="0.6"/>
<text x="286.2" y="364.3" font-size="9.6" text-anchor="middle" font-weight="bold" fill="#111">Survival days</text>
<text x="150.8" y="287.2" font-size="10.6" font-weight="bold" fill="#111" textLength="42" lengthAdjust="spacingAndGlyphs" transform="rotate(-90 150.8 287.2)">Survival</text>
<text x="164.4" y="280.2" font-size="10" font-weight="bold" fill="#111" textLength="27.8" lengthAdjust="spacingAndGlyphs" transform="rotate(-90 164.4 280.2)">(n=10)</text>
<text x="134" y="200.3" font-size="13.5" text-anchor="start" font-weight="bold" fill="#000">C</text>
<polyline points="188.2,229.23 222.2,229.23 222.2,260.66 226.9,260.66 226.9,281.62 231.2,281.62 231.2,313.05 235.2,313.05 235.2,323.52 252.6,323.52 252.6,334" fill="none" stroke="#b4b4b4" stroke-width="1.8" stroke-linejoin="round" stroke-linejoin="miter"/>
<polyline points="230.8,229.23 230.8,244.21 234.8,244.21 234.8,259.19 243.8,259.19 243.8,274.18 247.8,274.18 247.8,289.05 252.8,289.05 252.8,319.02 255.9,319.02 255.9,334" fill="none" stroke="#7a7a7a" stroke-width="1.8" stroke-linejoin="round" stroke-linejoin="miter"/>
<polyline points="188.2,229.23 244,229.23 244,242.33 256.9,242.33 256.9,255.42 260.6,255.42 260.6,268.52 269.3,268.52 269.3,281.62 282.2,281.62 282.2,294.71 298.6,294.71 298.6,321.43 384.5,321.43" fill="none" stroke="#000" stroke-width="2" stroke-linejoin="round" stroke-linejoin="miter"/>
<polygon points="208.55,202.4 210.65,202.4 210.65,214.8 213,213 210,223.9 209.6,224.2 209.2,223.9 206.2,213 208.55,214.8" fill="#000"/>
<polygon points="237.05,201.5 239.15,201.5 239.15,214.5 241.5,212.7 238.5,223.6 238.1,223.9 237.7,223.6 234.7,212.7 237.05,214.5" fill="#000"/>
<polygon points="263.95,213.2 266.05,213.2 266.05,225.3 268.4,223.5 265.4,234.4 265,234.7 264.6,234.4 261.6,223.5 263.95,225.3" fill="#000"/>
<polygon points="293.45,237.1 295.55,237.1 295.55,249.9 297.9,248.1 294.9,259 294.5,259.3 294.1,259 291.1,248.1 293.45,249.9" fill="#000"/>
<polygon points="321.75,259.8 323.85,259.8 323.85,272.6 326.2,270.8 323.2,281.7 322.8,282 322.4,281.7 319.4,270.8 321.75,272.6" fill="#000"/>
<polygon points="352.15,271.3 354.25,271.3 354.25,284.5 356.6,282.7 353.6,293.6 353.2,293.9 352.8,293.6 349.8,282.7 352.15,284.5" fill="#000"/>
</svg></body></html>
